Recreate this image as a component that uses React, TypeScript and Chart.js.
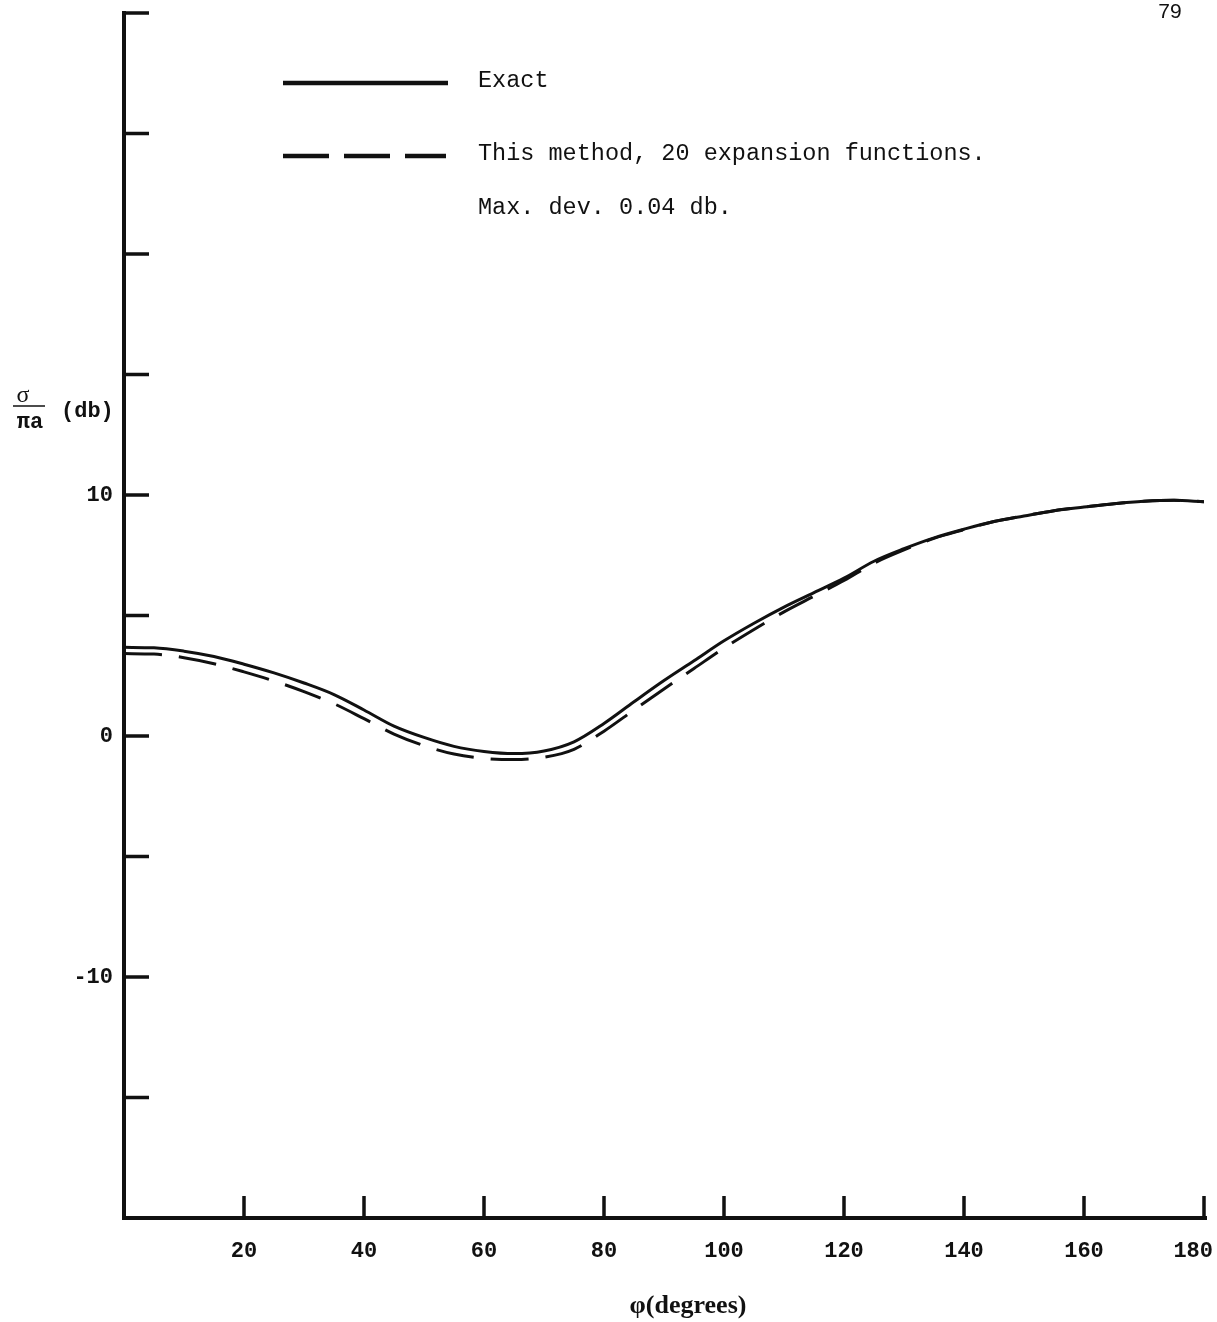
import React, { useEffect, useRef } from "react";
import { Chart, registerables } from "chart.js";

Chart.register(...registerables);

// ---- data ----
const angles = [
  0, 5, 10, 15, 20, 25, 30, 35, 40, 45, 50, 55, 60, 65, 70, 75, 80, 85, 90,
  95, 100, 105, 110, 115, 120, 125, 130, 135, 140, 145, 150, 155, 160, 165,
  170, 175, 180,
];
const exactValues = [
  3.68, 3.66, 3.52, 3.3, 2.98, 2.62, 2.2, 1.72, 1.08, 0.41, -0.06, -0.43,
  -0.64, -0.73, -0.62, -0.24, 0.52, 1.42, 2.3, 3.12, 3.95, 4.68, 5.35, 5.95,
  6.55, 7.25, 7.77, 8.22, 8.58, 8.9, 9.13, 9.35, 9.5, 9.64, 9.74, 9.78, 9.72,
];
const methodValues = [
  3.42, 3.4, 3.25, 3.0, 2.66, 2.28, 1.84, 1.34, 0.72, 0.08, -0.4, -0.75,
  -0.93, -0.98, -0.88, -0.55, 0.2, 1.08, 1.95, 2.8, 3.65, 4.42, 5.15, 5.8,
  6.45, 7.17, 7.72, 8.2, 8.56, 8.9, 9.13, 9.35, 9.5, 9.64, 9.74, 9.78, 9.72,
];
const seriesNames = ["Exact", "This method, 20 expansion functions."];
const noteText = "Max. dev. 0.04 db.";
const xTitle = "\u03c6(degrees)";
const yLabelValues = [10, 0, -10];
const pageNumber = "79";

const INK = "#111111";
const MONO = '"Liberation Mono", "DejaVu Sans Mono", monospace';
const SERIF = '"Liberation Serif", "DejaVu Serif", serif';
const TICK_FONT = `bold 22px ${MONO}`;
const METHOD_DASH = [38, 17];

const decorPlugin = {
  id: "decor",
  afterDraw(chart: any) {
    const ctx: CanvasRenderingContext2D = chart.ctx;
    const { left, right, top, bottom } = chart.chartArea;
    const xs = chart.scales.x;
    const ys = chart.scales.y;
    ctx.save();
    ctx.strokeStyle = INK;
    ctx.fillStyle = INK;
    ctx.setLineDash([]);

    // axes
    ctx.lineWidth = 4;
    ctx.lineCap = "square";
    ctx.beginPath();
    ctx.moveTo(left, top);
    ctx.lineTo(left, bottom);
    ctx.lineTo(right + 1, bottom);
    ctx.stroke();

    // inward tick marks
    ctx.lineCap = "butt";
    ctx.lineWidth = 3.5;
    ctx.beginPath();
    ys.ticks.forEach((t: any) => {
      if (t.value === ys.min) return;
      const y = ys.getPixelForValue(t.value);
      ctx.moveTo(left, y);
      ctx.lineTo(left + 25, y);
    });
    xs.ticks.forEach((t: any) => {
      if (t.value === xs.min) return;
      const x = xs.getPixelForValue(t.value);
      ctx.moveTo(x, bottom);
      ctx.lineTo(x, bottom - 22);
    });
    ctx.stroke();

    // x tick labels (kept inside the page at the right edge)
    ctx.font = TICK_FONT;
    ctx.textAlign = "center";
    ctx.textBaseline = "middle";
    xs.ticks.forEach((t: any) => {
      if (t.value === xs.min) return;
      const txt = String(t.value);
      const w = ctx.measureText(txt).width;
      let x = xs.getPixelForValue(t.value);
      x = Math.min(x, chart.width - 4 - w / 2);
      ctx.fillText(txt, x, bottom + 33);
    });

    // y title: sigma / pi a (db)
    ctx.textAlign = "center";
    ctx.font = `24px ${SERIF}`;
    ctx.fillText("\u03c3", 23, 396);
    ctx.lineWidth = 1.5;
    ctx.beginPath();
    ctx.moveTo(13, 406);
    ctx.lineTo(45, 406);
    ctx.stroke();
    ctx.font = `bold 22px ${MONO}`;
    ctx.fillText("\u03c0a", 30, 422);
    ctx.textAlign = "left";
    ctx.fillText("(db)", 61, 411);

    // x title
    ctx.textAlign = "center";
    ctx.font = `bold 26px ${SERIF}`;
    ctx.fillText(xTitle, 688, 1306);

    // legend
    const ds = chart.data.datasets;
    ctx.lineWidth = 4.5;
    ctx.strokeStyle = ds[0].borderColor;
    ctx.setLineDash([]);
    ctx.beginPath();
    ctx.moveTo(283, 83);
    ctx.lineTo(448, 83);
    ctx.stroke();
    ctx.strokeStyle = ds[1].borderColor;
    ctx.setLineDash([46, 15]);
    ctx.beginPath();
    ctx.moveTo(283, 156);
    ctx.lineTo(446, 156);
    ctx.stroke();
    ctx.setLineDash([]);
    ctx.textAlign = "left";
    ctx.font = `23.5px ${MONO}`;
    ctx.fillText(ds[0].label, 478, 81);
    ctx.fillText(ds[1].label, 478, 154);
    ctx.fillText(noteText, 478, 208);

    // page number
    ctx.textAlign = "center";
    ctx.font = `21px "Liberation Sans", "DejaVu Sans", sans-serif`;
    ctx.fillText(pageNumber, 1170, 12);
    ctx.restore();
  },
};

export default function App() {
  const canvasRef = useRef<HTMLCanvasElement | null>(null);

  useEffect(() => {
    if (!canvasRef.current) return;
    const toPoints = (vals: number[]) =>
      angles.map((a, i) => ({ x: a, y: vals[i] }));
    const chart = new Chart(canvasRef.current, {
      type: "line",
      data: {
        datasets: [
          {
            label: seriesNames[0],
            data: toPoints(exactValues),
            borderColor: INK,
            borderWidth: 3,
            pointRadius: 0,
            cubicInterpolationMode: "monotone",
            fill: false,
          },
          {
            label: seriesNames[1],
            data: toPoints(methodValues),
            borderColor: INK,
            borderWidth: 3,
            borderDash: METHOD_DASH,
            pointRadius: 0,
            cubicInterpolationMode: "monotone",
            fill: false,
          },
        ],
      },
      options: {
        responsive: false,
        animation: false,
        devicePixelRatio: 1,
        layout: { padding: { top: 13, right: 13, left: 0, bottom: 0 } },
        plugins: {
          legend: { display: false },
          tooltip: { enabled: false },
          title: { display: false },
        },
        scales: {
          x: {
            type: "linear",
            min: 0,
            max: 180,
            border: { display: false },
            grid: { display: false, drawTicks: false },
            ticks: {
              stepSize: 20,
              display: false,
              autoSkip: false,
            },
            afterFit: (s: any) => {
              s.height = 104;
              s.paddingLeft = 0;
              s.paddingRight = 0;
            },
          },
          y: {
            type: "linear",
            min: -20,
            max: 30,
            border: { display: false },
            grid: { display: false, drawTicks: false },
            ticks: {
              stepSize: 5,
              padding: 11,
              color: INK,
              font: { family: MONO, size: 22, weight: "bold" },
              autoSkip: false,
              callback: (v: any) =>
                yLabelValues.includes(Number(v)) ? String(v) : "",
            },
            afterFit: (s: any) => {
              s.width = 124;
              s.paddingTop = 0;
              s.paddingBottom = 0;
            },
          },
        },
      },
      plugins: [decorPlugin],
    });
    return () => chart.destroy();
  }, []);

  return (
    <div
      style={{
        position: "absolute",
        left: 0,
        top: 0,
        width: 1217,
        height: 1322,
        background: "#fff",
      }}
    >
      <canvas
        ref={canvasRef}
        width={1217}
        height={1322}
        style={{ width: 1217, height: 1322, display: "block" }}
      />
    </div>
  );
}
